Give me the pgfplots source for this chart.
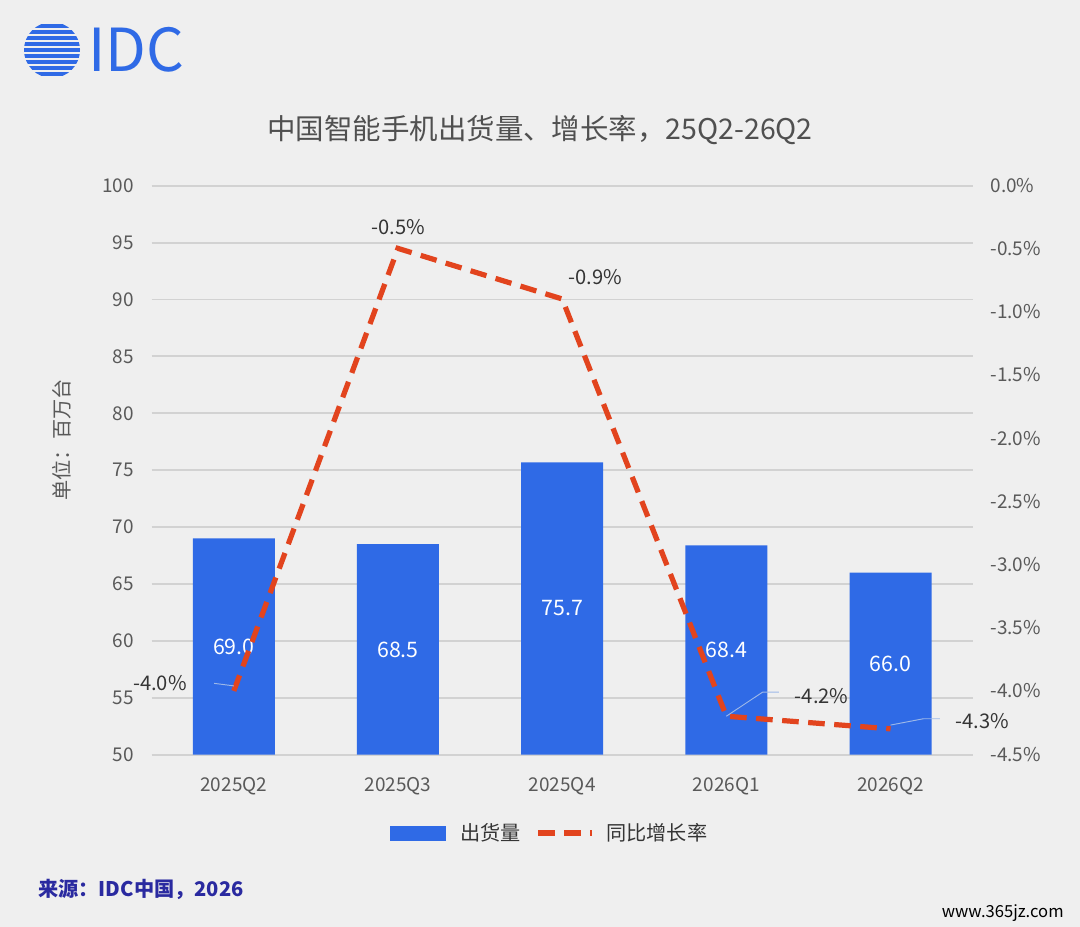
\documentclass[border=0pt]{standalone}
\usepackage{pgfplots}
\pgfplotsset{compat=1.18}
\usepackage{fontspec}
\setmainfont{Noto Sans CJK SC}
\definecolor{bg}{HTML}{EFEFEF}
\definecolor{barblue}{HTML}{2F6AE6}
\definecolor{lred}{HTML}{E2441E}
\definecolor{tick}{HTML}{595959}
\definecolor{gridc}{HTML}{D2D2D2}
\definecolor{src}{HTML}{2A2AA0}
\definecolor{lead}{HTML}{9DB8E8}
\begin{document}
\begin{tikzpicture}[x=0.014815cm,y=0.014815cm]
\useasboundingbox (0,0) rectangle (1080,927);
\fill[bg] (0,0) rectangle (1080,927);
% logo
\begin{scope}
\clip (52,877) circle (28);
\foreach \yy in {851,857,863,869,875,881,887,893,899} \fill[barblue] (20,\yy) rectangle (90,\yy+3.5);
\end{scope}
\node[anchor=west,text=barblue,font=\fontsize{25}{25}\selectfont] at (80,877) {IDC};
\node[text=tick!90!black,font=\fontsize{12}{14}\selectfont] at (540,797) {中国智能手机出货量、增长率，25Q2-26Q2};
\node[rotate=90,text=tick,font=\fontsize{8.5}{10}\selectfont] at (62,487) {单位：百万台};
\begin{axis}[at={(92.4,151.4)},anchor=south west,scale only axis,
  width=12.163cm,height=8.43cm,
  xmin=-0.5,xmax=4.5,ymin=50,ymax=100,
  ytick={50,55,...,100},xtick={0,1,2,3,4},
  xticklabels={2025Q2,2025Q3,2025Q4,2026Q1,2026Q2},
  axis line style={draw=none},major tick length=0pt,
  ymajorgrids,grid style={gridc,line width=0.8pt},
  tick label style={text=tick,font=\fontsize{8}{10}\selectfont},
  /pgf/number format/assume math mode=true,
  yticklabel style={xshift=-4pt},xticklabel style={yshift=-6pt},
  clip=false]
\addplot[ybar,bar width=1.215cm,fill=barblue,draw=none] coordinates {(0,69.0)(1,68.5)(2,75.7)(3,68.4)(4,66.0)};
\foreach \i/\v/\m in {0/69.0/59.5,1/68.5/59.25,2/75.7/62.85,3/68.4/59.2,4/66.0/58.0}{
  \edef\tmp{\noexpand\node[text=white,font=\noexpand\fontsize{9}{10}\noexpand\selectfont] at (axis cs:\i,\m) {\v};}\tmp}
\end{axis}
\begin{axis}[at={(92.4,136.7)},anchor=south west,scale only axis,
  width=12.163cm,height=8.43cm,
  xmin=-0.5,xmax=4.5,ymin=-4.5,ymax=0,
  axis y line*=right,axis x line=none,axis line style={draw=none},major tick length=0pt,
  ytick={-4.5,-4,...,0},
  yticklabel={\pgfmathprintnumber[fixed,fixed zerofill,precision=1]{\tick}\%},
  tick label style={text=tick,font=\fontsize{8}{10}\selectfont},
  /pgf/number format/assume math mode=true,
  yticklabel style={xshift=4pt},clip=false]
\addplot[lred,line width=2.2pt,dash pattern=on 7pt off 4pt] coordinates {(0,-4.0)(1,-0.5)(2,-0.9)(3,-4.2)(4,-4.3)};
\draw[lead,thin] (axis cs:-0.12,-3.94)--(axis cs:0,-3.96);
\draw[lead,thin] (axis cs:3,-4.2)--(axis cs:3.22,-4.01)--(axis cs:3.32,-4.01);
\draw[lead,thin] (axis cs:4,-4.27)--(axis cs:4.2,-4.22)--(axis cs:4.3,-4.22);
\node[text=tick!60!black,font=\fontsize{8.5}{10}\selectfont] at (axis cs:-0.45,-3.94) {-4.0\%};
\node[text=tick!60!black,font=\fontsize{8.5}{10}\selectfont] at (axis cs:1,-0.33) {-0.5\%};
\node[text=tick!60!black,font=\fontsize{8.5}{10}\selectfont] at (axis cs:2.2,-0.73) {-0.9\%};
\node[text=tick!60!black,font=\fontsize{8.5}{10}\selectfont] at (axis cs:3.58,-4.04) {-4.2\%};
\node[text=tick!60!black,font=\fontsize{8.5}{10}\selectfont] at (axis cs:4.56,-4.24) {-4.3\%};
\end{axis}
% legend
\fill[barblue] (390,86) rectangle (446,101);
\node[anchor=west,text=tick!60!black,font=\fontsize{8.5}{10}\selectfont] at (452,94) {出货量};
\draw[lred,line width=2.2pt,dash pattern=on 7pt off 4pt] (538,94)--(592,94);
\node[anchor=west,text=tick!60!black,font=\fontsize{8.5}{10}\selectfont] at (598,94) {同比增长率};
\node[anchor=west,text=src,font=\fontsize{8.5}{10}\selectfont\bfseries] at (30,38) {来源：IDC中国，2026};
\node[anchor=east,text=black,font=\fontsize{7}{8}\selectfont] at (1072,14) {www.365jz.com};
\end{tikzpicture}
\end{document}
